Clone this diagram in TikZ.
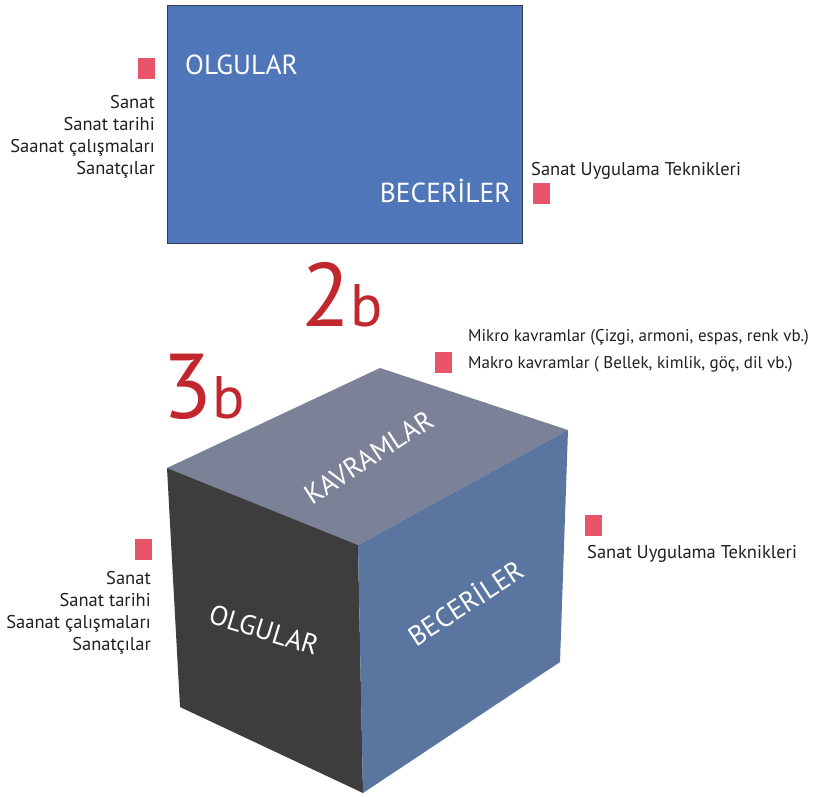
\documentclass[tikz,border=0pt]{standalone}
\usepackage{fontspec}
\setmainfont{PT Sans}
\definecolor{rectblue}{HTML}{4F76B8}
\definecolor{rectedge}{HTML}{2E3B50}
\definecolor{topface}{HTML}{7B8197}
\definecolor{darkface}{HTML}{3D3D3D}
\definecolor{rightface}{HTML}{5A76A0}
\definecolor{sqred}{HTML}{E8546A}
\definecolor{numred}{HTML}{C1272D}
\definecolor{txt}{HTML}{231F20}
\begin{document}
\begin{tikzpicture}[x=1pt,y=-1pt,
  lbl/.style={font=\fontsize{18.5}{22}\selectfont, text=txt, inner sep=0pt},
  lblk/.style={font=\fontsize{17}{20}\selectfont, text=txt, inner sep=0pt},
  redsq/.style={fill=sqred, minimum width=17pt, minimum height=21pt, inner sep=0pt},
  facetxt/.style={text=white, font=\fontsize{27.5}{32}\selectfont, inner sep=0pt},
  bignum/.style={text=numred, inner sep=0pt, anchor=base west}]
\useasboundingbox (0,0) rectangle (837,796);
\fill[white] (0,0) rectangle (837,796);
% top rectangle
\node[draw=rectedge, fill=rectblue, line width=1.2pt, minimum width=355pt, minimum height=238pt, anchor=north west, inner sep=0pt] (rect) at (167,5) {};
\node[facetxt, anchor=base west] (olg1) at (185,74) {OLGULAR};
\node[facetxt, anchor=base east] (bec1) at (511,202) {BECERİLER};
\node[redsq] (sq1) at (146.5,68) {};
\node[redsq] (sq2) at (541.5,193) {};
\node[lbl, anchor=base east] (a1) at (155,108) {Sanat};
\node[lbl, anchor=base east] (a2) at (155,130) {Sanat tarihi};
\node[lbl, anchor=base east] (a3) at (155,152) {Saanat çalışmaları};
\node[lbl, anchor=base east] (a4) at (155,174) {Sanatçılar};
\node[lbl, anchor=base west] (b1) at (531,175) {Sanat Uygulama Teknikleri};
% numbers
\node[bignum] (n2) at (301,326) {{\fontsize{90}{90}\selectfont 2}{\fontsize{60}{60}\selectfont b}};
\node[bignum] (n3) at (162,418) {{\fontsize{92}{92}\selectfont 3}{\fontsize{60}{60}\selectfont b}};
% concept labels
\node[redsq] (sq3) at (443.5,362.5) {};
\node[lblk, anchor=base west] (c1) at (468,341) {Mikro kavramlar (Çizgi, armoni, espas, renk vb.)};
\node[lblk, anchor=base west] (c2) at (468,368) {Makro kavramlar ( Bellek, kimlik, göç, dil vb.)};
% cube
\coordinate (T) at (380,368);
\coordinate (L) at (167,468);
\coordinate (F) at (358,545);
\coordinate (R) at (568,430);
\coordinate (LB) at (180,707);
\coordinate (FB) at (363,793);
\coordinate (RB) at (560,662);
\fill[topface] (L) -- (T) -- (R) -- (F) -- cycle;
\fill[darkface] (L) -- (F) -- (FB) -- (LB) -- cycle;
\fill[rightface] (F) -- (R) -- (RB) -- (FB) -- cycle;
\node[facetxt, rotate=33] (kav) at (369,457) {KAVRAMLAR};
\node[facetxt, rotate=-17] (olg2) at (264,630) {OLGULAR};
\node[facetxt, rotate=33] (bec2) at (465,602) {BECERİLER};
% cube side labels
\node[redsq] (sq4) at (593.5,525.5) {};
\node[lbl, anchor=base west] (d1) at (587,558) {Sanat Uygulama Teknikleri};
\node[redsq] (sq5) at (143.5,549.5) {};
\node[lbl, anchor=base east] (e1) at (151,584) {Sanat};
\node[lbl, anchor=base east] (e2) at (151,606) {Sanat tarihi};
\node[lbl, anchor=base east] (e3) at (151,628) {Saanat çalışmaları};
\node[lbl, anchor=base east] (e4) at (151,650) {Sanatçılar};
\end{tikzpicture}
\end{document}
